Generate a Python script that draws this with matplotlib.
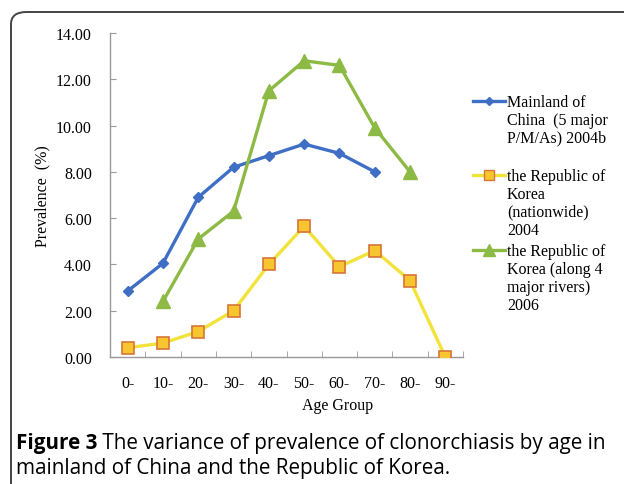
import matplotlib
matplotlib.use("Agg")
import matplotlib.pyplot as plt
from matplotlib.lines import Line2D
from matplotlib.patches import FancyBboxPatch
import numpy as np

categories = ["0-", "10-", "20-", "30-", "40-", "50-", "60-", "70-", "80-", "90-"]
china = [2.85, 4.05, 6.9, 8.2, 8.7, 9.2, 8.8, 8.0, np.nan, np.nan]
korea_nation = [0.4, 0.6, 1.1, 2.0, 4.0, 5.65, 3.9, 4.6, 3.3, 0.0]
korea_rivers = [np.nan, 2.4, 5.1, 6.3, 11.5, 12.8, 12.6, 9.9, 8.0, np.nan]
yticks = [0, 2, 4, 6, 8, 10, 12, 14]
labels = ["Mainland of\nChina  (5 major\nP/M/As) 2004b",
          "the Republic of\nKorea\n(nationwide)\n2004",
          "the Republic of\nKorea (along 4\nmajor rivers)\n2006"]
caption_bold = "Figure 3"
caption_rest = " The variance of prevalence of clonorchiasis by age in"
caption_line2 = "mainland of China and the Republic of Korea."

W, H = 624, 485
fig = plt.figure(figsize=(W / 100, H / 100), dpi=100)
serif = "Liberation Serif"
fs = 11.5

def fx(px):
    return px / W

def fy(py):
    return 1 - py / H

ax = fig.add_axes([fx(110), fy(358), fx(463) - fx(110), fy(34) - fy(358)])
x = np.arange(len(categories))

c_blue = "#3F6FC4"
c_yel = "#F2E33C"
c_green = "#8DBA45"
lw = 2.4

ax.plot(x, china, color=c_blue, lw=lw, marker="D", ms=5, mfc=c_blue, mec=c_blue, zorder=3)
ax.plot(x, korea_nation, color=c_yel, lw=lw, marker="s", ms=8, mfc="#F7C52E", mec="#D8743A", mew=1.2, zorder=3)
ax.plot(x, korea_rivers, color=c_green, lw=lw, marker="^", ms=10, mfc=c_green, mec=c_green, zorder=3)

ax.set_xlim(-0.5, len(categories) - 0.5)
ax.set_ylim(0, 14)
ax.set_yticks(yticks)
ax.set_yticklabels([f"{v:.2f}" for v in yticks], fontfamily=serif, fontsize=fs)
ax.set_xticks(x)
ax.set_xticklabels(categories, fontfamily=serif, fontsize=fs)
ax.set_xticks(np.arange(-0.5, len(categories) + 0.5, 1), minor=True)
ax.tick_params(axis="x", which="major", length=0, pad=13)
ax.tick_params(axis="x", which="minor", length=4, direction="in", color="#999999")
ax.tick_params(axis="y", length=4, direction="in", color="#999999", pad=13)
for s in ["top", "right"]:
    ax.spines[s].set_visible(False)
for s in ["left", "bottom"]:
    ax.spines[s].set_color("#999999")
    ax.spines[s].set_linewidth(1.0)

fig.text(fx(338), fy(406), "Age Group", fontfamily=serif, fontsize=fs, ha="center", va="center")
fig.text(fx(42), fy(196), "Prevalence  (%)", fontfamily=serif, fontsize=fs, ha="center", va="center", rotation=90)

# legend
entries = [(c_blue, "D", 4, c_blue, c_blue, 102),
           (c_yel, "s", 7, "#F7C52E", "#D8743A", 176),
           (c_green, "^", 8, c_green, c_green, 251)]
for (col, mk, ms, mfc, mec, ly), lab in zip(entries, labels):
    fig.add_artist(Line2D([fx(473), fx(505)], [fy(ly), fy(ly)], color=col, lw=lw,
                          transform=fig.transFigure))
    fig.add_artist(Line2D([fx(489)], [fy(ly)], color=col, marker=mk, ms=ms,
                          mfc=mfc, mec=mec, transform=fig.transFigure))
    fig.text(fx(507), fy(ly - 7), lab, fontfamily=serif, fontsize=fs, ha="left", va="top",
             linespacing=1.16)

# border
border = FancyBboxPatch((fx(11), fy(H + 20)), fx(W + 20) - fx(11), fy(13) - fy(H + 20),
                        boxstyle="round,pad=0,rounding_size=0.025",
                        transform=fig.transFigure, fill=False, ec="#444444", lw=1.4)
fig.add_artist(border)

cap_font = "Open Sans"
cfs = 14.9
t1 = fig.text(fx(16), fy(444), caption_bold, fontfamily=cap_font, fontsize=cfs,
              fontweight="bold", ha="left", va="center")
fig.canvas.draw()
bb = t1.get_window_extent()
fig.text(bb.x1 / W, fy(444), caption_rest, fontfamily=cap_font, fontsize=cfs,
         ha="left", va="center")
fig.text(fx(16), fy(469), caption_line2, fontfamily=cap_font, fontsize=cfs,
         ha="left", va="center")

fig.savefig("out.png", dpi=100)
